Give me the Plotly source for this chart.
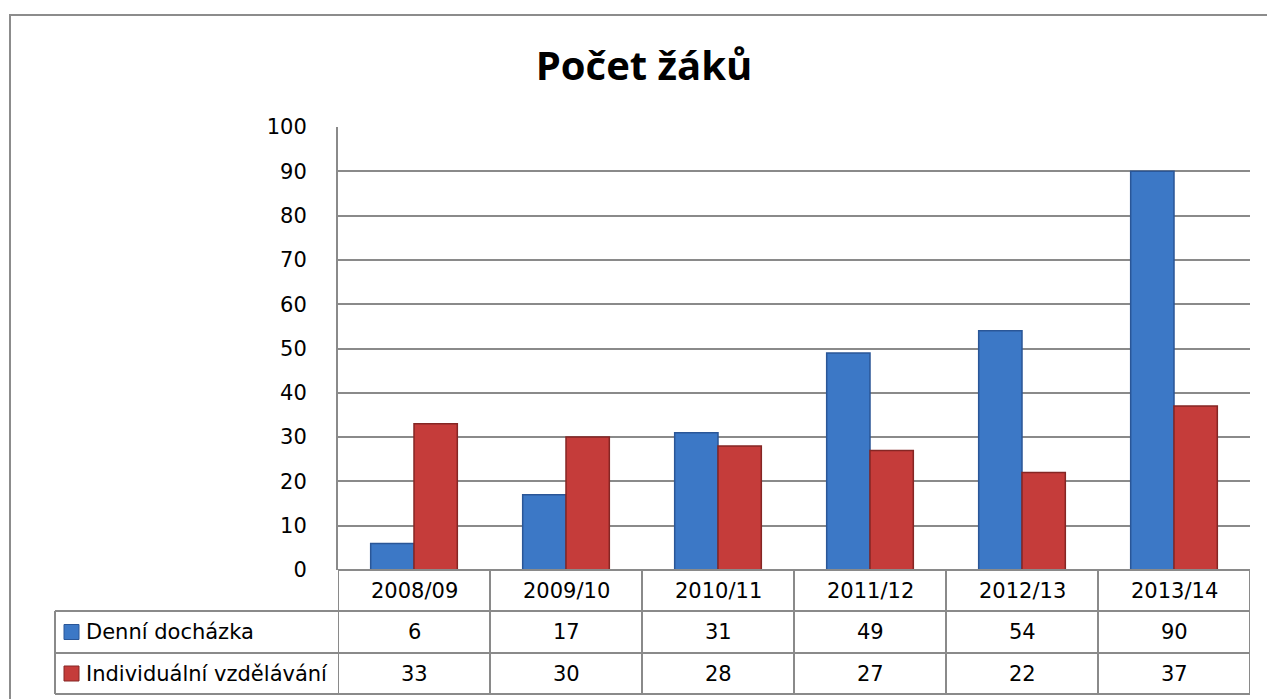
import plotly.graph_objects as go

categories = ["2008/09", "2009/10", "2010/11", "2011/12", "2012/13", "2013/14"]
denni = [6, 17, 31, 49, 54, 90]
individualni = [33, 30, 28, 27, 22, 37]
series_names = ["Denní docházka", "Individuální vzdělávání"]
y_ticks = [0, 10, 20, 30, 40, 50, 60, 70, 80, 90, 100]

W, H = 1267, 699
PL, PR, PT, PB = 338, 1250, 127, 570  # plot area in pixels
FONT = "DejaVu Sans"
TITLE_FONT = "Open Sans"
FS = 21
GRID = "#8a8a8a"
BLUE, BLUE_EDGE = "#3c78c6", "#2a5697"
RED, RED_EDGE = "#c53c3a", "#852624"


def px_x(x):
    return (x - PL) / (PR - PL)


def px_y(y):
    return (PB - y) / (PB - PT)


fig = go.Figure()
fig.add_trace(go.Bar(x=categories, y=denni, name=series_names[0],
                     marker=dict(color=BLUE, line=dict(color=BLUE_EDGE, width=1.5))))
fig.add_trace(go.Bar(x=categories, y=individualni, name=series_names[1],
                     marker=dict(color=RED, line=dict(color=RED_EDGE, width=1.5))))

shapes = []
annotations = []

# outer chart frame (right and bottom edges lie beyond the visible page)
shapes.append(dict(type="rect", xref="paper", yref="paper",
                   x0=px_x(10), x1=px_x(1270), y0=px_y(720), y1=px_y(15),
                   line=dict(color="#8c8c8c", width=2), layer="below"))

row_y = [570, 611, 653, 694]
n = len(categories)
# horizontal table lines
shapes.append(dict(type="line", xref="paper", yref="paper", x0=0, x1=1,
                   y0=px_y(row_y[0]), y1=px_y(row_y[0]), line=dict(color=GRID, width=2)))
for yy in row_y[1:]:
    shapes.append(dict(type="line", xref="paper", yref="paper", x0=px_x(55), x1=1,
                       y0=px_y(yy), y1=px_y(yy), line=dict(color=GRID, width=2)))
# vertical table lines at category boundaries
for i in range(n + 1):
    shapes.append(dict(type="line", xref="x", yref="paper", x0=i - 0.5, x1=i - 0.5,
                       y0=px_y(row_y[0]), y1=px_y(row_y[-1]), line=dict(color=GRID, width=2)))
# legend column left edge
shapes.append(dict(type="line", xref="paper", yref="paper", x0=px_x(55), x1=px_x(55),
                   y0=px_y(row_y[1]), y1=px_y(row_y[-1]), line=dict(color=GRID, width=2)))

# category labels
for c in categories:
    annotations.append(dict(x=c, xref="x", y=px_y((row_y[0] + row_y[1]) / 2), yref="paper",
                            text=c, showarrow=False, xanchor="center", yanchor="middle",
                            font=dict(family=FONT, size=FS, color="#000")))
# value rows
for r, (vals, nm, col, edge) in enumerate([(denni, series_names[0], BLUE, BLUE_EDGE),
                                             (individualni, series_names[1], RED, RED_EDGE)]):
    yc = (row_y[r + 1] + row_y[r + 2]) / 2
    for c, v in zip(categories, vals):
        annotations.append(dict(x=c, xref="x", y=px_y(yc), yref="paper", text=str(v),
                                showarrow=False, xanchor="center", yanchor="middle",
                                font=dict(family=FONT, size=FS, color="#000")))
    shapes.append(dict(type="rect", xref="paper", yref="paper",
                       x0=px_x(64), x1=px_x(79), y0=px_y(yc + 7.5), y1=px_y(yc - 7.5),
                       fillcolor=col, line=dict(color=edge, width=1)))
    annotations.append(dict(x=px_x(84), xref="paper", y=px_y(yc), yref="paper", text=nm,
                            showarrow=False, xanchor="left", yanchor="middle",
                            font=dict(family=FONT, size=FS, color="#000")))

fig.update_layout(
    width=W, height=H,
    margin=dict(l=PL, r=W - PR, t=PT, b=H - PB, pad=0),
    paper_bgcolor="white", plot_bgcolor="white",
    barmode="group", bargap=0.43, bargroupgap=0,
    showlegend=False,
    title=dict(text="<b>Počet žáků</b>", x=644 / W, xref="container", xanchor="center",
               y=1 - 66 / H, yref="container", yanchor="middle",
               font=dict(family=TITLE_FONT, size=40, color="#000")),
    font=dict(family=FONT, size=FS, color="#000"),
    xaxis=dict(type="category", range=[-0.5, n - 0.5], showticklabels=False,
               showgrid=False, showline=False, zeroline=False, fixedrange=True),
    yaxis=dict(range=[0, 100], tickvals=y_ticks, showgrid=True, gridcolor=GRID, gridwidth=2,
               showline=True, linecolor=GRID, linewidth=2, zeroline=False,
               ticks="", ticklabelstandoff=25, tickfont=dict(family=FONT, size=FS, color="#000")),
    shapes=shapes, annotations=annotations,
)

fig.write_html("out.html", config={"displayModeBar": False},
               post_script="document.body.style.margin='0';document.body.style.overflow='hidden';")
